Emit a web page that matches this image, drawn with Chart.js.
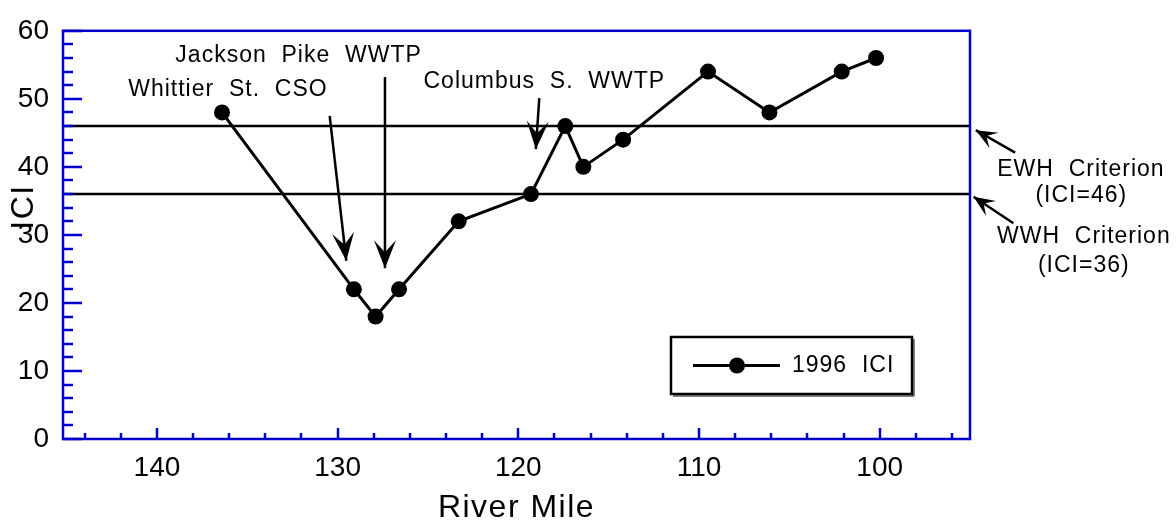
<!DOCTYPE html>
<html>
<head>
<meta charset="utf-8">
<script src="https://cdn.jsdelivr.net/npm/chart.js@4/dist/chart.umd.min.js"></script>
<style>
  html, body { margin: 0; padding: 0; background: #fff; }
  #wrap { width: 1176px; height: 526px; position: relative; }
</style>
</head>
<body>
<div id="wrap"><canvas id="iciChart"></canvas></div>
<script>
// ICI by river mile, 1996
const riverMiles = [136.4, 129.1, 127.9, 126.6, 123.3, 119.3, 117.4, 116.4, 114.2, 109.5, 106.1, 102.1, 100.2];
const iciValues  = [48, 22, 18, 22, 32, 36, 46, 40, 44, 54, 48, 54, 56];

// axes
const xMajor = [140, 130, 120, 110, 100];
const yMajor = [0, 10, 20, 30, 40, 50, 60];
const minorStep = 2;

// criterion lines
const criteria = [46, 36];

// text labels placed in (river mile, ICI) units
const notes = [
    { text: 'Jackson  Pike  WWTP', at: [132.16, 56.4] },
    { text: 'Whittier  St.  CSO', at: [136.07, 51.3] },
    { text: 'Columbus  S.  WWTP', at: [118.56, 52.5] },
    { text: 'EWH  Criterion', at: [88.86, 39.6] },
    { text: '(ICI=46)', at: [88.84, 35.7] },
    { text: 'WWH  Criterion', at: [88.7, 29.7] },
    { text: '(ICI=36)', at: [88.7, 25.5] }
];

// arrows: from -> to, same units
const arrows = [
    { from: [130.44, 47.5], to: [129.52, 26.2], big: true },
    { from: [127.38, 53.2], to: [127.38, 25.1], big: true },
    { from: [118.84, 50.1], to: [119.03, 42.6], big: true },
    { from: [92.5, 42.1], to: [94.68, 45.4], big: false },
    { from: [92.6, 31.7], to: [94.8, 35.6], big: false }
];

const BLUE = '#0000cc';
const FONT = 'Arial, "Liberation Sans", sans-serif';

function arrowHead(ctx, x1, y1, x2, y2, len, half, notch) {
    const a = Math.atan2(y2 - y1, x2 - x1);
    const c = Math.cos(a), s = Math.sin(a);
    ctx.beginPath();
    ctx.moveTo(x2, y2);
    ctx.lineTo(x2 - len * c + half * s, y2 - len * s - half * c);
    ctx.lineTo(x2 - notch * c, y2 - notch * s);
    ctx.lineTo(x2 - len * c - half * s, y2 - len * s + half * c);
    ctx.closePath();
    ctx.fill();
}

const decorations = {
    id: 'decorations',
    beforeDatasetsDraw(chart) {
        const { ctx, chartArea: a, scales: { y } } = chart;
        ctx.save();
        ctx.strokeStyle = '#000';
        ctx.lineWidth = 2.5;
        criteria.forEach(v => {
            const py = y.getPixelForValue(v);
            ctx.beginPath();
            ctx.moveTo(a.left, py);
            ctx.lineTo(a.right, py);
            ctx.stroke();
        });
        ctx.restore();
    },
    afterDraw(chart) {
        const { ctx, chartArea: a, scales: { x, y } } = chart;
        ctx.save();

        // frame and inward ticks
        ctx.strokeStyle = BLUE;
        ctx.lineWidth = 2.5;
        ctx.strokeRect(a.left, a.top, a.right - a.left, a.bottom - a.top);
        ctx.lineWidth = 2.5;
        for (let v = Math.ceil(y.min / minorStep) * minorStep; v <= y.max; v += minorStep) {
            const py = Math.round(y.getPixelForValue(v));
            const len = v % 10 === 0 ? 19 : 10;
            ctx.beginPath();
            ctx.moveTo(a.left, py);
            ctx.lineTo(a.left + len, py);
            ctx.stroke();
        }
        for (let v = Math.ceil(x.min / minorStep) * minorStep; v <= x.max; v += minorStep) {
            const px = Math.round(x.getPixelForValue(v));
            const len = v % 10 === 0 ? 11 : 6;
            ctx.beginPath();
            ctx.moveTo(px, a.bottom);
            ctx.lineTo(px, a.bottom - len);
            ctx.stroke();
        }

        // arrows
        ctx.strokeStyle = '#000';
        ctx.fillStyle = '#000';
        ctx.lineWidth = 2.5;
        arrows.forEach(ar => {
            const x1 = x.getPixelForValue(ar.from[0]), y1 = y.getPixelForValue(ar.from[1]);
            const x2 = x.getPixelForValue(ar.to[0]), y2 = y.getPixelForValue(ar.to[1]);
            ctx.beginPath();
            ctx.moveTo(x1, y1);
            ctx.lineTo(x2, y2);
            ctx.stroke();
            if (ar.big) arrowHead(ctx, x1, y1, x2, y2, 28, 11, 16);
            else arrowHead(ctx, x1, y1, x2, y2, 21, 9, 12);
        });

        // notes
        ctx.font = '23px ' + FONT;
        ctx.letterSpacing = '1px';
        ctx.textAlign = 'center';
        ctx.textBaseline = 'middle';
        notes.forEach(n => {
            ctx.fillText(n.text, x.getPixelForValue(n.at[0]), y.getPixelForValue(n.at[1]));
        });

        // legend box
        const ds = chart.data.datasets[0];
        const lx = a.right - 299, ly = a.bottom - 102, lw = 241, lh = 57;
        ctx.lineWidth = 2.5;
        ctx.strokeRect(lx, ly, lw, lh);
        ctx.lineWidth = 1;
        ctx.beginPath();
        ctx.moveTo(lx + 2, ly + lh + 2);
        ctx.lineTo(lx + lw + 2, ly + lh + 2);
        ctx.lineTo(lx + lw + 2, ly + 2);
        ctx.stroke();
        const my = ly + lh / 2;
        ctx.lineWidth = ds.borderWidth;
        ctx.beginPath();
        ctx.moveTo(lx + 22, my);
        ctx.lineTo(lx + 109, my);
        ctx.stroke();
        ctx.beginPath();
        ctx.arc(lx + 66, my, ds.pointRadius, 0, Math.PI * 2);
        ctx.fill();
        ctx.textAlign = 'left';
        ctx.fillText(ds.label, lx + 121, my);

        // axis titles
        ctx.letterSpacing = '1.5px';
        ctx.font = '32px ' + FONT;
        ctx.textAlign = 'center';
        ctx.fillText('River Mile', (a.left + a.right) / 2, 508);
        ctx.translate(24, 207);
        ctx.rotate(-Math.PI / 2);
        ctx.fillText('ICI', 0, 0);
        ctx.restore();
    }
};

const ctx = document.getElementById('iciChart').getContext('2d');
const chart = new Chart(ctx, {
    type: 'scatter',
    data: {
        datasets: [{
            label: '1996  ICI',
            data: riverMiles.map((m, i) => ({ x: m, y: iciValues[i] })),
            showLine: true,
            borderColor: '#000',
            backgroundColor: '#000',
            borderWidth: 3,
            pointRadius: 8,
            pointHoverRadius: 8,
            pointBackgroundColor: '#000',
            pointBorderWidth: 0
        }]
    },
    options: {
        responsive: true,
        maintainAspectRatio: false,
        animation: false,
        events: [],
        layout: { padding: { top: 25, right: 206, left: 0, bottom: 0 } },
        scales: {
            x: {
                type: 'linear',
                reverse: true,
                min: 95,
                max: 145.2,
                grid: { display: false, drawTicks: false },
                border: { display: false },
                afterBuildTicks: axis => { axis.ticks = xMajor.map(v => ({ value: v })); },
                afterFit: axis => { axis.height = 87; },
                ticks: {
                    autoSkip: false,
                    maxRotation: 0,
                    padding: 12,
                    color: '#000',
                    font: { family: FONT, size: 28 }
                }
            },
            y: {
                min: 0,
                max: 60,
                grid: { display: false, drawTicks: false },
                border: { display: false },
                afterBuildTicks: axis => { axis.ticks = yMajor.map(v => ({ value: v })); },
                afterFit: axis => { axis.width = 63; },
                ticks: {
                    autoSkip: false,
                    padding: 14,
                    color: '#000',
                    font: { family: FONT, size: 28 }
                }
            }
        },
        plugins: {
            legend: { display: false },
            tooltip: { enabled: false }
        }
    },
    plugins: [decorations]
});
</script>
</body>
</html>
